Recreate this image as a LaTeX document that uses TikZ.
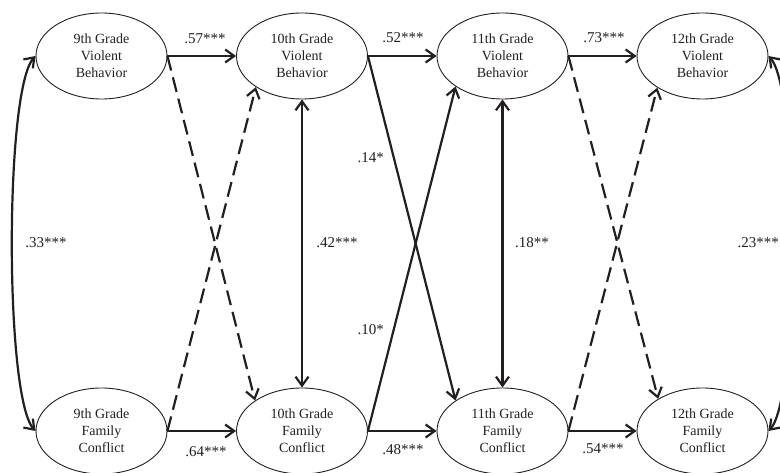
\documentclass[tikz,border=0pt]{standalone}
\usepackage{fontspec}
\setmainfont{Liberation Serif}
\usetikzlibrary{shapes.geometric,arrows.meta,calc}
\definecolor{ink}{RGB}{35,31,32}
\begin{document}
\begin{tikzpicture}[x=1pt,y=-1pt,
  latent/.style={ellipse, draw=ink, line width=0.9pt, minimum width=131pt, minimum height=86pt, inner sep=0pt, align=center, font=\fontsize{14}{17}\selectfont, text=ink},
  effect/.style={line width=2.2pt, draw=ink, -{Straight Barb[length=9pt,width=13pt]}},
  effectd/.style={effect, dash pattern=on 15pt off 7pt},
  both/.style={line width=2.2pt, draw=ink, {Straight Barb[length=9pt,width=13pt]}-{Straight Barb[length=9pt,width=13pt]}},
  lab/.style={font=\fontsize{15}{18}\selectfont, text=ink, inner sep=0pt}]
\useasboundingbox[fill=white] (0,0) rectangle (780,473);
% nodes
\node[latent] (v9)  at (101.5,56) {9th Grade\\Violent\\Behavior};
\node[latent] (v10) at (302,56)   {10th Grade\\Violent\\Behavior};
\node[latent] (v11) at (502.5,56) {11th Grade\\Violent\\Behavior};
\node[latent] (v12) at (702.5,56) {12th Grade\\Violent\\Behavior};
\node[latent] (f9)  at (101.5,431) {9th Grade\\Family\\Conflict};
\node[latent] (f10) at (302,431)   {10th Grade\\Family\\Conflict};
\node[latent] (f11) at (502.5,431) {11th Grade\\Family\\Conflict};
\node[latent] (f12) at (702.5,431) {12th Grade\\Family\\Conflict};
% stability paths
\draw[effect] (v9.east) -- (v10.west);
\draw[effect] (v10.east) -- (v11.west);
\draw[effect] (v11.east) -- (v12.west);
\draw[effect] (f9.east) -- (f10.west);
\draw[effect] (f10.east) -- (f11.west);
\draw[effect] (f11.east) -- (f12.west);
% cross-lagged
\draw[effectd] (v9.east) -- (f10.147);
\draw[effectd] (f9.east) -- (v10.214);
\draw[effect] (v10.east) -- (f11.147);
\draw[effect] (f10.east) -- (v11.213);
\draw[effectd] (v11.east) -- (f12.144);
\draw[effectd] (f11.east) -- (v12.215);
% covariances
\draw[both] (v10.south) -- (f10.north);
\draw[both] (v11.south) -- (f11.north);
\draw[both] (v9.west) .. controls ($(v9.west)+(-31,33)$) and ($(f9.west)+(-31,-33)$) .. (f9.west);
\draw[both] (v12.east) .. controls ($(v12.east)+(31,33)$) and ($(f12.east)+(31,-33)$) .. (f12.east);
% labels
\node[lab] (l57) at (205,39) {.57***};
\node[lab] (l52) at (403,38) {.52***};
\node[lab] (l73) at (604,38) {.73***};
\node[lab] (l64) at (206,452) {.64***};
\node[lab] (l48) at (403,450) {.48***};
\node[lab] (l54) at (603,449) {.54***};
\node[lab, anchor=east] (l14) at (384,158) {.14*};
\node[lab, anchor=east] (l10) at (384,330) {.10*};
\node[lab] (l42) at (337,243) {.42***};
\node[lab] (l18) at (532,243) {.18**};
\node[lab] (l33) at (46,243) {.33***};
\node[lab, anchor=east] (l23) at (779,243) {.23***};
\end{tikzpicture}
\end{document}
